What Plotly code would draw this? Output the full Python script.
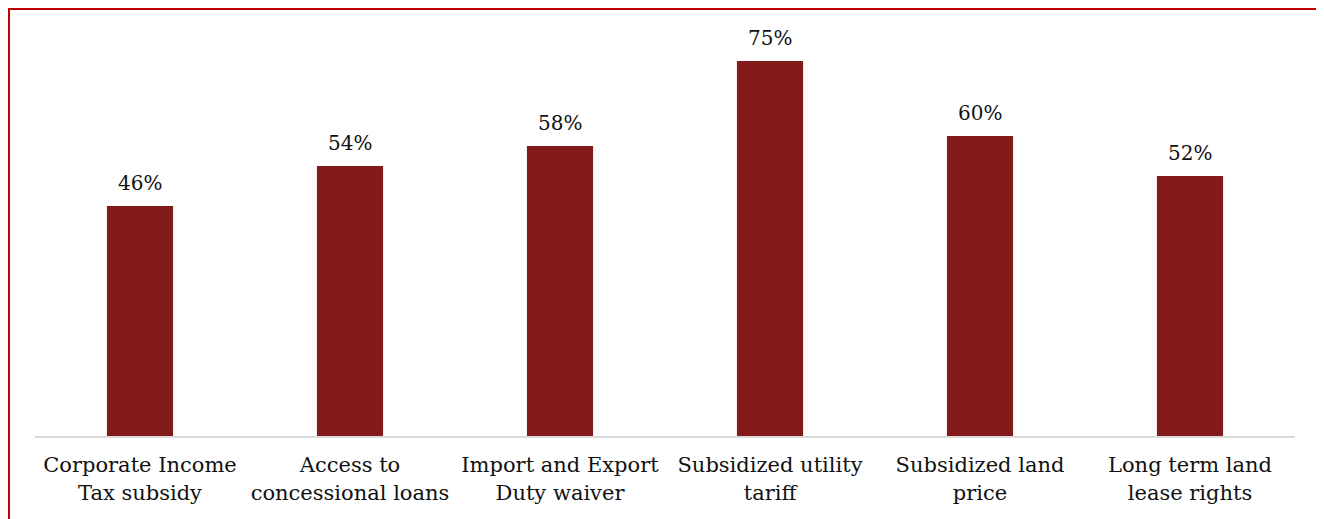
import plotly.graph_objects as go

categories = ["Corporate Income<br>Tax subsidy", "Access to<br>concessional loans",
              "Import and Export<br>Duty waiver", "Subsidized utility<br>tariff",
              "Subsidized land<br>price", "Long term land<br>lease rights"]
values = [46, 54, 58, 75, 60, 52]
labels = [f"{v}%" for v in values]

# page is drawn with an 8px body margin, so the figure is 8px smaller
W, H = 1316, 511
ml, mr, mt, mb = 27, 29, 12, 83
FONT = "DejaVu Serif"

fig = go.Figure(go.Bar(
    x=categories, y=values,
    marker=dict(color="#821A1A", line=dict(width=0)),
    cliponaxis=False,
))

for c, v, t in zip(categories, values, labels):
    fig.add_annotation(x=c, y=v, text=t, showarrow=False, yanchor="bottom",
                       yshift=9, font=dict(family=FONT, size=20, color="#111111"))

pw = W - ml - mr
ph = H - mt - mb
def px2paper_x(px):
    return (px - ml) / pw
def px2paper_y(py):
    return (H - mb - py) / ph

fig.update_layout(
    width=W, height=H,
    margin=dict(l=ml, r=mr, t=mt, b=mb),
    paper_bgcolor="white", plot_bgcolor="white",
    bargap=0.685,
    showlegend=False,
    font=dict(family=FONT, size=21, color="#111111"),
    xaxis=dict(showline=True, linecolor="#D9D9D9", linewidth=2, ticks="",
               ticklabelstandoff=9,
               tickfont=dict(family=FONT, size=21, color="#111111")),
    yaxis=dict(range=[0, 83.2], visible=False, showgrid=False),
    shapes=[dict(type="rect", xref="paper", yref="paper",
                 x0=px2paper_x(1), x1=px2paper_x(1310),
                 y0=px2paper_y(530), y1=px2paper_y(1),
                 line=dict(color="#C00000", width=2), layer="above")],
)

fig.write_html("out.html")
